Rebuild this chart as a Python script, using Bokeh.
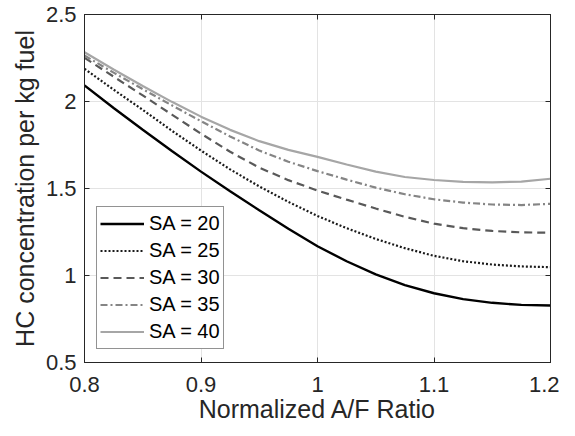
from bokeh.plotting import figure
from bokeh.models import LinearAxis, FixedTicker, Range1d, Legend, LegendItem
from bokeh.embed import file_html
from bokeh.resources import INLINE

# Data
af_ratio = [0.800, 0.825, 0.850, 0.875, 0.900, 0.925, 0.950, 0.975, 1.000,
            1.025, 1.050, 1.075, 1.100, 1.125, 1.150, 1.175, 1.200]
sa20 = [2.092, 1.963, 1.838, 1.716, 1.597, 1.484, 1.375, 1.269, 1.168,
        1.082, 1.006, 0.945, 0.898, 0.864, 0.843, 0.831, 0.828]
sa25 = [2.188, 2.068, 1.952, 1.832, 1.718, 1.610, 1.512, 1.423, 1.342,
        1.272, 1.210, 1.157, 1.113, 1.082, 1.063, 1.052, 1.048]
sa30 = [2.251, 2.143, 2.035, 1.925, 1.815, 1.711, 1.620, 1.548, 1.488,
        1.436, 1.385, 1.337, 1.298, 1.272, 1.256, 1.248, 1.246]
sa35 = [2.264, 2.166, 2.071, 1.978, 1.887, 1.799, 1.718, 1.654, 1.600,
        1.551, 1.505, 1.467, 1.438, 1.419, 1.408, 1.405, 1.412]
sa40 = [2.283, 2.184, 2.089, 1.998, 1.913, 1.837, 1.772, 1.722, 1.682,
        1.638, 1.597, 1.566, 1.549, 1.538, 1.535, 1.540, 1.556]
series_labels = ["SA = 20", "SA = 25", "SA = 30", "SA = 35", "SA = 40"]
x_ticks = [0.8, 0.9, 1.0, 1.1, 1.2]
y_ticks = [0.5, 1.0, 1.5, 2.0, 2.5]
x_tick_labels = {0.8: "0.8", 0.9: "0.9", 1.0: "1", 1.1: "1.1", 1.2: "1.2"}
y_tick_labels = {0.5: "0.5", 1.0: "1", 1.5: "1.5", 2.0: "2", 2.5: "2.5"}

FONT = "Liberation Sans"
AXC = "#262626"

p = figure(width=559, height=428, output_backend="svg", toolbar_location=None,
           x_range=Range1d(0.8, 1.2), y_range=Range1d(0.5, 2.5),
           min_border_left=84, min_border_right=9, min_border_top=14, min_border_bottom=66,
           background_fill_color="white", border_fill_color="white")
p.outline_line_color = AXC
p.outline_line_width = 1
p.outline_line_alpha = 1.0

styles = [
    dict(color="#000000", line_width=2.4, line_dash="solid"),
    dict(color="#1a1a1a", line_width=2.2, line_dash="2 2"),
    dict(color="#595959", line_width=2.2, line_dash="8 5"),
    dict(color="#858585", line_width=2.2, line_dash="7 3 2 3"),
    dict(color="#a6a6a6", line_width=2.2, line_dash="solid"),
]
items = []
for ys, lab, st in zip([sa20, sa25, sa30, sa35, sa40], series_labels, styles):
    r = p.line(af_ratio, ys, line_color=st["color"], line_width=st["line_width"],
               line_dash=st["line_dash"])
    items.append(LegendItem(label=lab, renderers=[r]))

for ax, ticks, labs in [(p.xaxis[0], x_ticks, x_tick_labels), (p.yaxis[0], y_ticks, y_tick_labels)]:
    ax.ticker = FixedTicker(ticks=ticks)
    ax.major_label_overrides = labs
    ax.major_tick_in = 5
    ax.major_tick_out = 0
    ax.minor_tick_in = 0
    ax.minor_tick_out = 0
    ax.axis_line_color = AXC
    ax.major_tick_line_color = AXC
    ax.major_label_text_color = AXC
    ax.major_label_text_font = FONT
    ax.major_label_text_font_size = "22px"
    ax.axis_label_text_font = FONT
    ax.axis_label_text_font_size = "25px"
    ax.axis_label_text_font_style = "normal"
    ax.axis_label_text_color = AXC

p.xaxis.axis_label = "Normalized A/F Ratio"
p.yaxis.axis_label = "HC concentration per kg fuel"
p.xaxis.major_label_standoff = 14
p.yaxis.major_label_standoff = 8
p.xaxis.axis_label_standoff = 0
p.yaxis.axis_label_standoff = 4

# box ticks on top and right (no labels)
for loc, ticks in [("above", x_ticks), ("right", y_ticks)]:
    ax = LinearAxis(ticker=FixedTicker(ticks=ticks))
    ax.major_label_text_color = None
    ax.major_label_standoff = 0
    ax.major_tick_in = 5
    ax.major_tick_out = 0
    ax.minor_tick_in = 0
    ax.minor_tick_out = 0
    ax.axis_line_color = AXC
    ax.major_tick_line_color = AXC
    p.add_layout(ax, loc)

p.xgrid.ticker = FixedTicker(ticks=x_ticks)
p.ygrid.ticker = FixedTicker(ticks=y_ticks)
p.grid.grid_line_color = "#e3e3e3"
p.grid.grid_line_width = 1

legend = Legend(items=items, location=(12, 13))
legend.label_text_font = FONT
legend.label_text_font_size = "20px"
legend.label_text_color = "#000000"
legend.border_line_color = AXC
legend.border_line_width = 1
legend.background_fill_color = "white"
legend.background_fill_alpha = 1.0
legend.glyph_width = 44
legend.glyph_height = 27
legend.label_height = 27
legend.label_standoff = 5
legend.spacing = 0
legend.padding = 3
legend.margin = 0
p.add_layout(legend, "center")

open("out.html", "w").write(file_html(p, INLINE))
